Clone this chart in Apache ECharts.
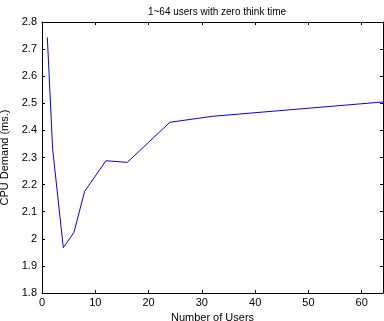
<!DOCTYPE html>
<html><head><meta charset="utf-8">
<script src="https://cdn.jsdelivr.net/npm/echarts@6/dist/echarts.min.js"></script>
<style>html,body{margin:0;padding:0;background:#fff}#c{width:384px;height:321px}</style>
</head><body><div id="c"></div>
<script>
var users = [1, 2, 4, 6, 8, 12, 16, 24, 32, 64];
var cpuDemand = [2.743, 2.33, 1.967, 2.024, 2.175, 2.288, 2.282, 2.43, 2.452, 2.505];
var titleText = '1~64 users with zero think time';
var xLabel = 'Number of Users';
var yLabel = 'CPU Demand (ms.)';

var font = 'Liberation Sans, Arial, Helvetica, sans-serif';
var chart = echarts.init(document.getElementById('c'), null, {renderer: 'canvas'});
var axisCommon = {
  axisLine: {show: true, onZero: false, lineStyle: {color: '#000', width: 1}},
  axisTick: {show: true, inside: true, length: 3, lineStyle: {color: '#000'}},
  splitLine: {show: false}
};
chart.setOption({
  animation: false,
  backgroundColor: '#fff',
  title: {text: titleText, left: 212, top: 2, textAlign: 'center',
    textStyle: {fontFamily: font, fontSize: 10, fontWeight: 'normal', color: '#000'}},
  grid: {left: 42, right: 1, top: 22, bottom: 28, containLabel: false, outerBoundsMode: 'none'},
  xAxis: [
    Object.assign({type: 'value', min: 0, max: 64, interval: 10, position: 'bottom',
      name: xLabel, nameLocation: 'middle', nameGap: 13,
      nameTextStyle: {fontFamily: font, fontSize: 11, color: '#000'},
      axisLabel: {fontFamily: font, fontSize: 11, color: '#000', margin: 4,
        showMaxLabel: false}}, axisCommon),
    Object.assign({type: 'value', min: 0, max: 64, interval: 10, position: 'top',
      axisLabel: {show: false}}, axisCommon)
  ],
  yAxis: [
    Object.assign({type: 'value', min: 1.8, max: 2.8, interval: 0.1, position: 'left',
      name: yLabel, nameLocation: 'middle', nameGap: 21,
      nameTextStyle: {fontFamily: font, fontSize: 11, color: '#000'},
      axisLabel: {fontFamily: font, fontSize: 11, color: '#000', margin: 5,
        formatter: function(v){ return String(Math.round(v*10)/10); }}}, axisCommon),
    Object.assign({type: 'value', min: 1.8, max: 2.8, interval: 0.1, position: 'right',
      axisLabel: {show: false}}, axisCommon)
  ],
  series: [{
    type: 'line', xAxisIndex: 0, yAxisIndex: 0,
    data: users.map(function(u, i){ return [u, cpuDemand[i]]; }),
    showSymbol: false, symbol: 'none',
    lineStyle: {color: '#0000ff', width: 1}
  }]
});
</script></body></html>
